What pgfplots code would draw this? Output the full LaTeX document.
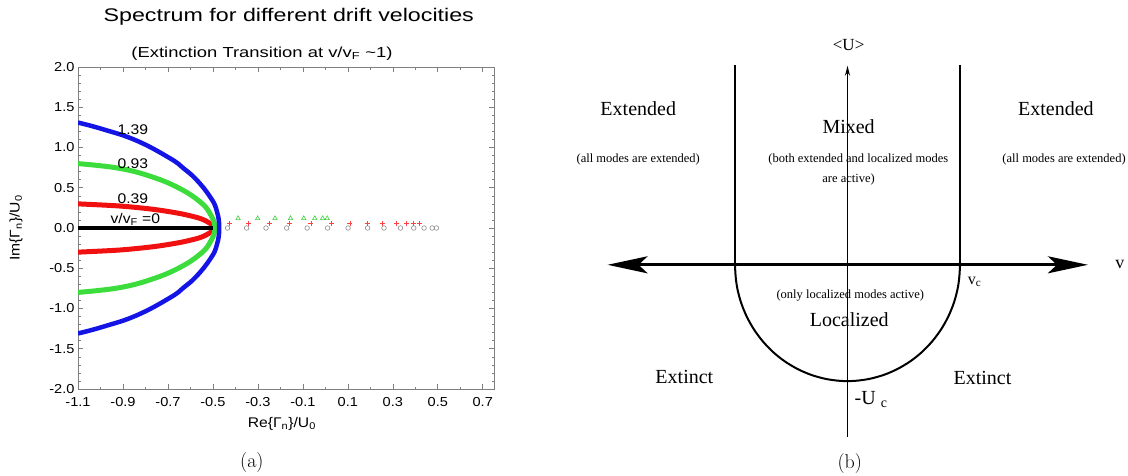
\documentclass[border=0pt]{standalone}
\usepackage{fontspec}
\usepackage{pgfplots}
\pgfplotsset{compat=1.18}
\usetikzlibrary{arrows.meta}
% fonts: the left panel is a stretched Helvetica, the right one Times
\newfontfamily\hv[FakeStretch=1.12]{Liberation Sans}
\newfontfamily\hvt[FakeStretch=1.27]{Liberation Sans}
\newfontfamily\tms{Liberation Serif}
\definecolor{cBlue}{HTML}{1414E6}
\definecolor{cGreen}{HTML}{3CDC3C}
\definecolor{cRed}{HTML}{F01010}
\definecolor{cGray}{HTML}{8C8C8C}
\definecolor{cAxis}{HTML}{7F7F7F}
\definecolor{cLtRed}{HTML}{FF4040}
\definecolor{cLtGreen}{HTML}{40D040}
\begin{document}
\begin{tikzpicture}[x=1pt,y=1pt]
\path[use as bounding box] (0,0) rectangle (1128,-475);

% === (a) spectrum ===
\begin{axis}[
    name=A, at={(78pt,-389pt)}, anchor=south west,
    scale only axis, width=416pt, height=322pt,
    xmin=-1.1, xmax=0.75, ymin=-2, ymax=2,
    xtick={-1.1,-0.9,-0.7,-0.5,-0.3,-0.1,0.1,0.3,0.5,0.7},
    ytick={-2,-1.5,-1,-0.5,0,0.5,1,1.5,2},
    minor x tick num=1, minor y tick num=4,
    tick align=inside,
    major tick length=5pt, minor tick length=2.5pt,
    axis line style={cAxis, line width=0.6pt},
    every tick/.style={cAxis, line width=0.6pt},
    /pgf/number format/fixed,
    /pgf/number format/fixed zerofill,
    /pgf/number format/precision=1,
    /pgf/number format/assume math mode=true,
    ticklabel style={font=\hv\fontsize{13}{13}\selectfont, text=black},
    xticklabel style={yshift=-5pt},
    xlabel={Re\{Γ\textsubscript{n}\}/U\textsubscript{0}},
    ylabel={Im\{Γ\textsubscript{n}\}/U\textsubscript{0}},
    label style={font=\hv\fontsize{14}{14}\selectfont},
    xlabel style={at={(rel axis cs:0.49,-0.109)}, anchor=center},
    ylabel style={at={(rel axis cs:-0.149,0.5)}, anchor=center},
    clip mode=individual,
]
% v/vF = 0.39
\addplot[cRed, line width=5pt, smooth, tension=0.5] coordinates {
    (-1.1,0.30) (-0.913,0.273) (-0.765,0.232) (-0.647,0.18) (-0.558,0.12)
    (-0.513,0.058) (-0.49,0) (-0.513,-0.058) (-0.558,-0.12) (-0.647,-0.18)
    (-0.765,-0.232) (-0.913,-0.273) (-1.1,-0.30)
};
% v/vF = 0.93
\addplot[cGreen, line width=5pt, smooth, tension=0.7] coordinates {
    (-1.1,0.80) (-0.913,0.74) (-0.765,0.63) (-0.647,0.49) (-0.558,0.327)
    (-0.513,0.18) (-0.491,0) (-0.513,-0.18) (-0.558,-0.327) (-0.647,-0.49)
    (-0.765,-0.63) (-0.913,-0.74) (-1.1,-0.80)
};
% v/vF = 1.39
\addplot[cBlue, line width=4.5pt, smooth, tension=0.75] coordinates {
    (-1.1,1.31) (-0.988,1.226) (-0.839,1.085) (-0.691,0.866) (-0.63,0.74)
    (-0.572,0.596) (-0.513,0.389) (-0.484,0.224) (-0.472,0)
    (-0.484,-0.224) (-0.513,-0.389) (-0.572,-0.596) (-0.63,-0.74)
    (-0.691,-0.866) (-0.839,-1.085) (-0.988,-1.226) (-1.1,-1.31)
};
% v/vF = 0
\addplot[black, line width=4.8pt] coordinates {(-1.1,0) (-0.5,0)};

% isolated eigenvalues
\addplot[only marks, mark=o, cGray, mark size=2.3pt, line width=0.6pt] coordinates {
    (-0.435,0) (-0.350,0) (-0.264,0) (-0.172,0) (-0.081,0) (0.010,0) (0.101,0)
    (0.188,0) (0.261,0) (0.334,0) (0.393,0) (0.439,0) (0.475,0) (0.494,0)
};
\addplot[only marks, mark=+, cLtRed, mark size=2.5pt, line width=0.7pt] coordinates {
    (-0.428,0.058) (-0.341,0.058) (-0.250,0.058) (-0.158,0.058) (-0.064,0.058)
    (0.028,0.058) (0.109,0.058) (0.186,0.058) (0.254,0.058) (0.316,0.058)
    (0.361,0.058) (0.393,0.058) (0.417,0.058)
};
\addplot[only marks, mark=triangle, cLtGreen, mark size=2.5pt, line width=0.6pt] coordinates {
    (-0.388,0.12) (-0.301,0.12) (-0.224,0.12) (-0.155,0.12) (-0.096,0.12)
    (-0.047,0.12) (-0.012,0.12) (0.008,0.12)
};

\node[font=\hv\fontsize{14}{14}\selectfont] at (axis cs:-0.856,1.217) {1.39};
\node[font=\hv\fontsize{14}{14}\selectfont] at (axis cs:-0.856,0.797) {0.93};
\node[font=\hv\fontsize{14}{14}\selectfont] at (axis cs:-0.856,0.36) {0.39};
\node[font=\hv\fontsize{14}{14}\selectfont] at (axis cs:-0.845,0.106) {v/v\textsubscript{F} =0};

\node[font=\hvt\fontsize{18.3}{18.3}\selectfont, anchor=base west]
    at (rel axis cs:0.053,1.1407) {Spectrum for different drift velocities};
\node[font=\hvt\fontsize{14.5}{14.5}\selectfont, anchor=base west]
    at (rel axis cs:0.120,1.030) {(Extinction Transition at v/v\textsubscript{F} \textasciitilde1)};
\node[font=\fontsize{20}{20}\selectfont] at (rel axis cs:0.418,-0.2298) {(a)};
\end{axis}

% === (b) phase diagram ===
\begin{axis}[
    name=B, at={(600pt,-458.6pt)}, anchor=south west,
    scale only axis, width=540pt, height=433.2pt,
    xmin=-2.2, xmax=2.6, ymin=-1.7, ymax=2.1,
    hide axis, clip=false,
]
\addplot[black, line width=3pt,
    {Stealth[length=40pt,width=17pt,inset=9pt]}-{Stealth[length=40pt,width=17pt,inset=9pt]}]
    coordinates {(-2.133,0) (2.137,0)};
\addplot[black, line width=1pt, -{Stealth[length=10pt,width=5pt]}]
    coordinates {(0,-1.51) (0,1.746)};
\addplot[black, line width=2pt] coordinates {(-1,1.754) (-1,0)};
\addplot[black, line width=2pt] coordinates {(1,1.754) (1,0)};
% boundary of the localized region
\addplot[black, line width=2pt, smooth, tension=0.7] coordinates {
    (-1,0) (-0.991,-0.134) (-0.966,-0.264) (-0.924,-0.39) (-0.866,-0.51)
    (-0.793,-0.621) (-0.707,-0.721) (-0.609,-0.809) (-0.5,-0.883)
    (-0.383,-0.942) (-0.259,-0.985) (-0.131,-1.011) (0,-1.02)
    (0.131,-1.011) (0.259,-0.985) (0.383,-0.942) (0.5,-0.883)
    (0.609,-0.809) (0.707,-0.721) (0.793,-0.621) (0.866,-0.51)
    (0.924,-0.39) (0.966,-0.264) (0.991,-0.134) (1,0)
};

\node[font=\tms\fontsize{17}{17}\selectfont] at (axis cs:0.01,1.928) {<U>};
\node[font=\tms\fontsize{20}{20}\selectfont] at (axis cs:-1.86,1.368) {Extended};
\node[font=\tms\fontsize{12.5}{12.5}\selectfont] at (axis cs:-1.86,0.92) {(all modes are extended)};
\node[font=\tms\fontsize{20}{20}\selectfont] at (axis cs:0.01,1.21) {Mixed};
\node[font=\tms\fontsize{12.5}{12.5}\selectfont] at (axis cs:0.096,0.92) {(both extended and localized modes};
\node[font=\tms\fontsize{12.5}{12.5}\selectfont] at (axis cs:0.01,0.748) {are active)};
\node[font=\tms\fontsize{20}{20}\selectfont] at (axis cs:1.852,1.368) {Extended};
\node[font=\tms\fontsize{12.5}{12.5}\selectfont] at (axis cs:1.925,0.92) {(all modes are extended)};
\node[font=\tms\fontsize{18}{18}\selectfont] at (axis cs:2.42,0) {v};
\node[font=\tms\fontsize{16}{16}\selectfont] at (axis cs:1.13,-0.15) {v\textsubscript{c}};
\node[font=\tms\fontsize{12.5}{12.5}\selectfont] at (axis cs:0.025,-0.27) {(only localized modes active)};
\node[font=\tms\fontsize{20}{20}\selectfont] at (axis cs:0.016,-0.48) {Localized};
\node[font=\tms\fontsize{20}{20}\selectfont] at (axis cs:-1.45,-0.98) {Extinct};
\node[font=\tms\fontsize{20}{20}\selectfont] at (axis cs:1.20,-0.99) {Extinct};
\node[font=\tms\fontsize{20}{20}\selectfont] at (axis cs:0.21,-1.18) {-U \textsubscript{c}};
\node[font=\fontsize{20}{20}\selectfont] at (axis cs:0.02,-1.739) {(b)};
\end{axis}
\end{tikzpicture}
\end{document}
